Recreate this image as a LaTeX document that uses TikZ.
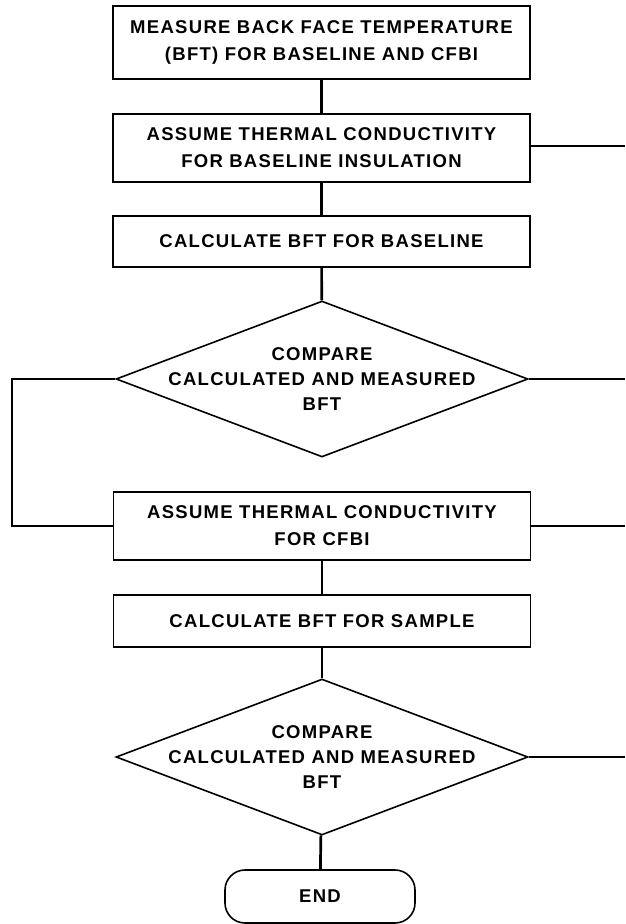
\documentclass[tikz,border=0pt]{standalone}
\usepackage{fontspec}
\setmainfont{Liberation Sans}
\newfontfamily\chartfont[LetterSpace=7]{Liberation Sans}
\usetikzlibrary{shapes.geometric}

\begin{document}
\begin{tikzpicture}[x=1pt, y=-1pt,
		stepbox/.style={rectangle, draw, line width=1.5pt, minimum width=417pt, inner sep=0pt, align=center, font=\chartfont\bfseries\fontsize{18.5}{27}\selectfont},
		decision/.style={diamond, draw, line width=1.6pt, minimum width=412pt, minimum height=156pt, inner sep=0pt},
		dtext/.style={align=center, font=\chartfont\bfseries\fontsize{18.5}{25}\selectfont},
		endbox/.style={rectangle, draw, line width=1.6pt, rounded corners=20pt, minimum width=190pt, minimum height=53pt, font=\chartfont\bfseries\fontsize{18.5}{25}\selectfont},
		link/.style={line width=2.7pt}]
			\useasboundingbox (0,0) rectangle (625,924);

			\node[stepbox, minimum height=73pt] (M) at (321.5, 42.5) {MEASURE BACK FACE TEMPERATURE\\(BFT) FOR BASELINE AND CFBI};
			\node[stepbox, minimum height=68pt] (A1) at (321.5, 148) {ASSUME THERMAL CONDUCTIVITY\\FOR BASELINE INSULATION};
			\node[stepbox, minimum height=51pt] (C1) at (321.5, 241.5) {CALCULATE BFT FOR BASELINE};
			\node[decision] (D1) at (322, 379) {};
			\node[dtext] (D1t) at (D1.center) {COMPARE\\CALCULATED AND MEASURED\\BFT};
			\node[stepbox, minimum height=68pt] (A2) at (322, 526) {ASSUME THERMAL CONDUCTIVITY\\FOR CFBI};
			\node[stepbox, minimum height=52pt] (C2) at (322, 621) {CALCULATE BFT FOR SAMPLE};
			\node[decision] (D2) at (322, 757) {};
			\node[dtext] (D2t) at (D2.center) {COMPARE\\CALCULATED AND MEASURED\\BFT};
			\node[endbox] (E) at (320, 896.5) {END};

			% free ends at the right edge, and the left loop corner
			\coordinate (R1) at (625, 146);
			\coordinate (R2) at (625, 379);
			\coordinate (R3) at (625, 526);
			\coordinate (R4) at (625, 757);
			\coordinate (L1) at (12, 379);

			\draw[link] (M) -- (A1);
			\draw[link] (A1) -- (C1);
			\draw[link] (C1) -- (D1);
			\draw[link] (A2) -- (C2);
			\draw[link] (C2) -- (D2);
			\draw[link] (D2) -- (E);

			\draw[link] (A1.east |- R1) -- (R1);
			\draw[link] (D1.east) -- (R2);
			\draw[link] (A2.east) -- (R3);
			\draw[link] (D2.east) -- (R4);
			\draw[link] (D1.west) -- (L1) |- (A2.west);
		\end{tikzpicture}
\end{document}
